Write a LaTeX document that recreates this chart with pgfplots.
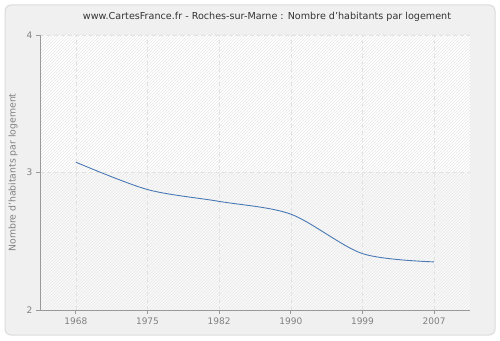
\documentclass[border=0pt]{standalone}
\usepackage{pgfplots}
\pgfplotsset{compat=1.18}
\usepackage{fontspec}
\setmainfont{DejaVu Sans}
\usetikzlibrary{patterns}
\definecolor{bgpanel}{HTML}{F0F0F0}
\definecolor{panelborder}{HTML}{DCDCDC}
\definecolor{axisgray}{HTML}{999999}
\definecolor{ticklab}{HTML}{808080}
\definecolor{gridc}{HTML}{E2E2E2}
\definecolor{linec}{HTML}{4A7AB5}
\definecolor{hatchc}{HTML}{E8E8E8}
\pgfplotstableread{
x year val
0 1968 3.075
1 1975 2.876
2 1982 2.790
3 1990 2.697
4 1999 2.410
5 2007 2.350
}\datatable
\begin{document}
\begin{tikzpicture}[x=1pt,y=1pt]
\fill[white] (0,0) rectangle (500,340);
\draw[panelborder, fill=bgpanel, rounded corners=6pt, line width=1pt] (5,5) rectangle (495,335);
\fill[white] (40,167.5) rectangle (470,305);
\fill[black!2.5] (40,30) rectangle (470,167.5);
\fill[pattern=north east lines, pattern color=hatchc] (40,30) rectangle (470,305);
\node[font=\fontsize{9.6}{11}\selectfont, text=black!80] at (267,323) {www.CartesFrance.fr - Roches-sur-Marne : Nombre d'habitants par logement};
\begin{axis}[
  at={(40pt,30pt)}, anchor=south west,
  scale only axis, width=430pt, height=275pt,
  xmin=-0.5, xmax=5.5, ymin=2, ymax=4,
  xtick={0,1,2,3,4,5},
  xticklabels={1968,1975,1982,1990,1999,2007},
  ytick={2,3,4},
  axis x line*=bottom, axis y line*=left,
  axis line style={axisgray, line width=0.8pt},
  tick style={axisgray, line width=0.8pt},
  tick align=outside, major tick length=4pt,
  x axis line style={-}, y axis line style={-},
  grid=major, major grid style={gridc, dash pattern=on 4pt off 3pt, line width=0.6pt},
  tick label style={font=\fontsize{9}{10}\selectfont, text=ticklab},
  /pgf/number format/assume math mode=true,
  ylabel={Nombre d'habitants par logement},
  every axis y label/.style={at={(axis description cs:0,0.5)}, xshift=-27pt, rotate=90, anchor=center, font=\fontsize{9.3}{10}\selectfont, text=ticklab},
  clip=false,
]
\addplot[linec, line width=0.9pt, smooth, tension=0.5] table[x=x, y=val] {\datatable};
\end{axis}
\end{tikzpicture}
\end{document}
